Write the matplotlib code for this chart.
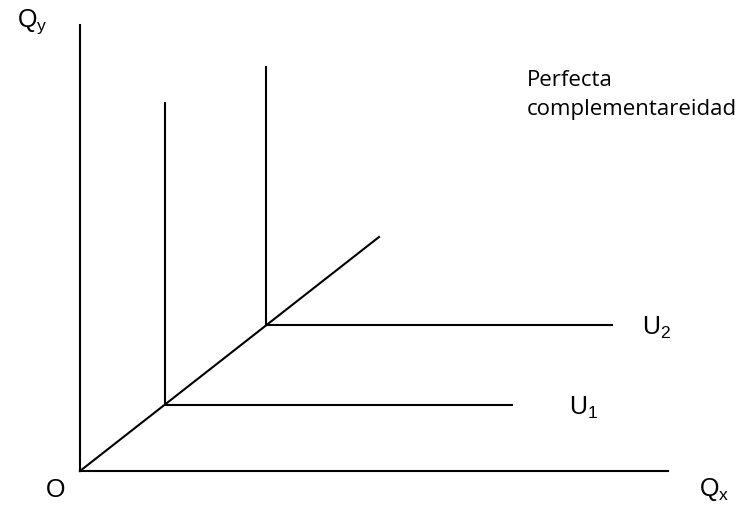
import matplotlib.pyplot as plt

plt.rcParams['font.family'] = ['Liberation Sans', 'DejaVu Sans']

# esquinas de las curvas de indiferencia (unidades de pixel respecto al origen)
kink_x = [85, 186]
kink_y = [66, 146]
top_y = [368, 404]
end_x = [432, 532]
labels = ['U$_\\mathregular{1}$', 'U$_\\mathregular{2}$']
label_x = [489, 562]

diag_end = (299, 234)
x_axis_len = 588
y_axis_len = 446

fig = plt.figure(figsize=(7.55, 5.06), dpi=100)
ax = fig.add_axes([0, 0, 1, 1])
ax.set_xlim(-80, 675)
ax.set_ylim(-34, 472)
ax.axis('off')

lw = 1.5
ax.plot([0, x_axis_len], [0, 0], color='black', lw=lw)
ax.plot([0, 0], [0, y_axis_len], color='black', lw=lw)
ax.plot([0, diag_end[0]], [0, diag_end[1]], color='black', lw=lw)

for kx, ky, ty, ex, lx, lab in zip(kink_x, kink_y, top_y, end_x, label_x, labels):
    ax.plot([kx, kx, ex], [ty, ky, ky], color='black', lw=lw)
    ax.text(lx, ky - 2, lab, fontsize=18, ha='left', va='center')

ax.text(-63, 450, 'Q$_\\mathregular{y}$', fontsize=18, ha='left', va='center')
ax.text(619, -18, 'Q$_\\mathregular{x}$', fontsize=18, ha='left', va='center')
ax.text(-24, -18, 'O', fontsize=18, ha='center', va='center')
ax.text(447, 377, 'Perfecta\ncomplementareidad', fontsize=16, ha='left',
        va='center', linespacing=1.45, family='Open Sans')

plt.savefig('out.png', dpi=100)
